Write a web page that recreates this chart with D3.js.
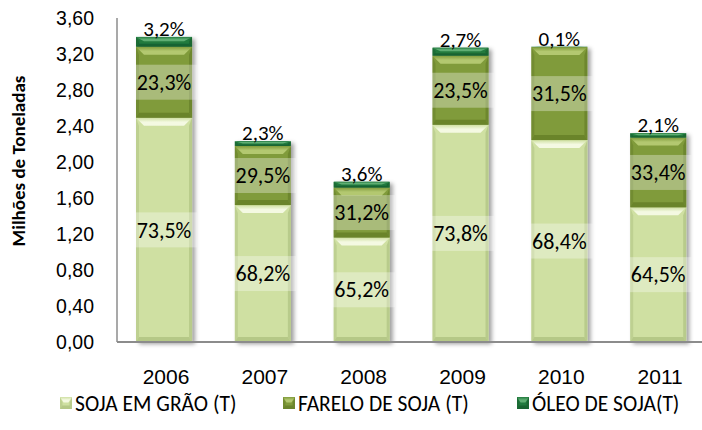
<!DOCTYPE html>
<html><head><meta charset="utf-8">
<script src="https://cdn.jsdelivr.net/npm/d3@7"></script>
<style>
html,body{margin:0;padding:0;background:#fff;}
svg{display:block;font-family:Carlito,Calibri,Lato,sans-serif;}
</style></head>
<body><svg id="c" width="702" height="430"></svg>
<script>
// ---- data ----
const years = ["2006","2007","2008","2009","2010","2011"];
const totals = [3.39, 2.23, 1.78, 3.27, 3.28, 2.32];        // milhões de toneladas
const pctSoja = [73.5, 68.2, 65.2, 73.8, 68.4, 64.5];
const pctFarelo = [23.3, 29.5, 31.2, 23.5, 31.5, 33.4];
const pctOleo = [3.2, 2.3, 3.6, 2.7, 0.1, 2.1];
const seriesNames = ["SOJA EM GRÃO (T)", "FARELO DE SOJA (T)", "ÓLEO DE SOJA(T)"];
const yTicks = [0, 0.4, 0.8, 1.2, 1.6, 2.0, 2.4, 2.8, 3.2, 3.6];
const yTitle = "Milhões de Toneladas";

const pcts = [pctSoja, pctFarelo, pctOleo];
const colors = [
  {base:"#cfe0a2", light:"#f4f9e2", dark:"#a9bd7c"},
  {base:"#809b3a", light:"#b3c870", dark:"#617a26"},
  {base:"#217a3e", light:"#5fae73", dark:"#155a2b"}
];

const svg = d3.select("#c");
const x = d3.scaleBand().domain(years).range([114.6, 707.6]).paddingInner(0.433).paddingOuter(0.2165);
const y = d3.scaleLinear().domain([0, 3.6]).range([342, 18]);
const fmt = v => d3.format(".1f")(v).replace(".", ",");
const fmt2 = v => d3.format(".2f")(v).replace(".", ",");

const defs = svg.append("defs");
const f = defs.append("filter").attr("id","sh").attr("x","-20%").attr("y","-5%").attr("width","150%").attr("height","115%");
f.append("feDropShadow").attr("dx",3).attr("dy",2).attr("stdDeviation",2).attr("flood-color","#000").attr("flood-opacity",0.38);
colors.forEach((c,i)=>{
  const g = defs.append("linearGradient").attr("id","top"+i).attr("x1",0).attr("y1",0).attr("x2",0).attr("y2",1);
  g.append("stop").attr("offset","0%").attr("stop-color",c.base);
  g.append("stop").attr("offset","55%").attr("stop-color",c.light);
  g.append("stop").attr("offset","100%").attr("stop-color",c.light);
});

// axes
const yAxis = d3.axisLeft(y).tickValues(yTicks).tickSize(0).tickPadding(0).tickFormat(fmt2);
const ga = svg.append("g").attr("transform","translate(94,0)").call(yAxis);
ga.select(".domain").remove();
ga.selectAll("text").attr("font-size",19.5).attr("fill","#000").attr("font-family","inherit").attr("dy","0.35em");

svg.append("line").attr("x1",117).attr("x2",117).attr("y1",18).attr("y2",342).attr("stroke","#8c8c8c").attr("stroke-width",1.5);

svg.append("text").attr("transform","translate(25,161) rotate(-90)").attr("text-anchor","middle")
  .attr("font-weight","bold").attr("font-size",19).text(yTitle);

function bevel(g, bx, by, bw, bh, ci){
  const c = colors[ci];
  if (bh <= 0) return;
  g.append("rect").attr("x",bx).attr("y",by).attr("width",bw).attr("height",bh).attr("fill",c.base);
  const bt = Math.min(8, bh*0.45), bs = Math.min(8, bw*0.3), sb = Math.min(5, bh*0.3), sw = Math.min(3, bw*0.2);
  g.append("polygon").attr("points",[[bx,by],[bx+sw,by+bt],[bx+sw,by+bh-sb],[bx,by+bh]].join(" ")).attr("fill",c.dark).attr("opacity",0.45);
  g.append("polygon").attr("points",[[bx+bw,by],[bx+bw-sw,by+bt],[bx+bw-sw,by+bh-sb],[bx+bw,by+bh]].join(" ")).attr("fill",c.dark).attr("opacity",0.6);
  g.append("polygon").attr("points",[[bx,by+bh],[bx+bw,by+bh],[bx+bw-sw,by+bh-sb],[bx+sw,by+bh-sb]].join(" ")).attr("fill",c.dark).attr("opacity",0.7);
  g.append("polygon").attr("points",[[bx,by],[bx+bw,by],[bx+bw-bs,by+bt],[bx+bs,by+bt]].join(" ")).attr("fill","url(#top"+ci+")");
}

// bars
const bars = svg.append("g");
years.forEach((yr,i)=>{
  const g = bars.append("g").attr("filter","url(#sh)");
  let cum = 0;
  pcts.forEach((p,s)=>{
    const v = totals[i]*p[i]/100;
    const y0 = y(cum), y1 = y(cum+v);
    bevel(g, x(yr), y1, x.bandwidth(), y0-y1, s);
    cum += v;
  });
});

// labels
const lab = svg.append("g").attr("font-size",22);
years.forEach((yr,i)=>{
  const cx = x(yr) + x.bandwidth()/2;
  let cum = 0;
  pcts.forEach((p,s)=>{
    const v = totals[i]*p[i]/100;
    const txt = fmt(p[i]) + "%";
    if (s < 2){
      const cy = y(cum + v/2);
      const t = lab.append("text").attr("x",cx).attr("y",cy).attr("dy","0.35em").attr("text-anchor","middle").text(txt);
      const w = t.node().getComputedTextLength();
      lab.insert("rect","text").attr("x",cx-w/2-6).attr("y",cy-17.5).attr("width",w+12).attr("height",35)
        .attr("fill","#fff").attr("opacity",0.32);
    } else {
      lab.append("text").attr("x",cx).attr("y",y(cum+v)-1).attr("font-size",21).attr("text-anchor","middle").text(txt);
    }
    cum += v;
  });
});
lab.selectAll("rect").lower();

// bottom axis line
svg.append("line").attr("x1",117).attr("x2",702).attr("y1",342).attr("y2",342).attr("stroke","#8c8c8c").attr("stroke-width",2);

const xAxis = d3.axisBottom(x).tickSize(0).tickPadding(0);
const gx = svg.append("g").attr("transform","translate(2,377)").call(xAxis);
gx.select(".domain").remove();
gx.selectAll("text").attr("font-size",21).attr("fill","#000").attr("font-family","inherit").attr("dy","0.35em");

// legend
const legX = [60, 283, 517];
const lg = svg.append("g");
seriesNames.forEach((n,i)=>{
  const g = lg.append("g");
  bevel(g, legX[i], 397, 12, 12, i);
  lg.append("text").attr("x",legX[i]+15).attr("y",403).attr("dy","0.35em").attr("font-size",21.5).text(n);
});
</script></body></html>
